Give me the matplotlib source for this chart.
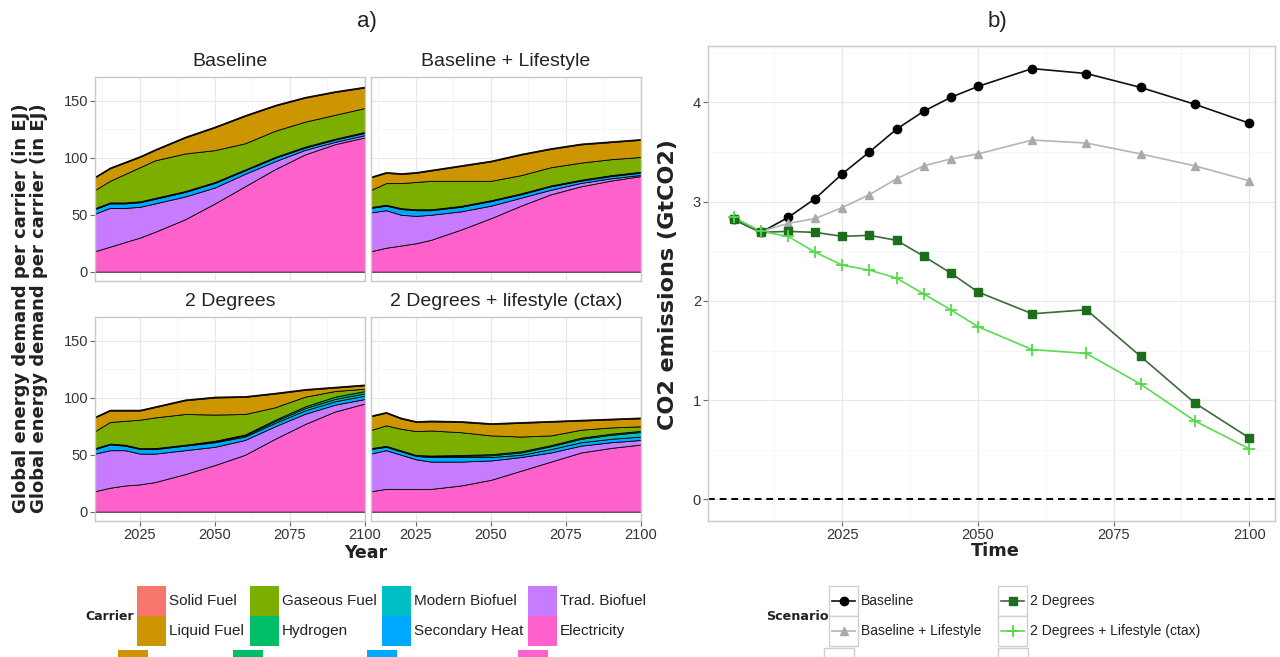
import numpy as np
import matplotlib.pyplot as plt
from matplotlib.patches import Rectangle
from matplotlib.lines import Line2D
from matplotlib.ticker import MultipleLocator

plt.rcParams['font.family'] = ['Liberation Sans', 'DejaVu Sans']

W, H = 1280, 657

# ---------------- data : energy demand per carrier (EJ) ----------------
years = [2010, 2015, 2020, 2025, 2030, 2040, 2050, 2060, 2070, 2080, 2090, 2100]

carriers = ['Solid Fuel', 'Liquid Fuel', 'Gaseous Fuel', 'Hydrogen',
            'Modern Biofuel', 'Secondary Heat', 'Trad. Biofuel', 'Electricity']
carrier_colors = ['#F8766D', '#CD9600', '#7CAE00', '#00BE67',
                  '#00BFC4', '#00A9FF', '#C77CFF', '#FF61CC']

facet_names = ['Baseline', 'Baseline + Lifestyle', '2 Degrees', '2 Degrees + lifestyle (ctax)']

baseline = {
    'Electricity':    [18, 22, 26, 30, 35, 46, 60, 75, 90, 103, 112, 118],
    'Trad. Biofuel':  [33, 34, 30, 27, 25, 20, 14, 11, 7, 4, 2, 2],
    'Secondary Heat': [4, 4, 4, 4, 4, 4, 4, 3, 3, 2, 2, 2],
    'Modern Biofuel': [0.5, 0.5, 0.5, 0.5, 0.5, 0.5, 0.5, 0.5, 0.5, 0.5, 0.5, 0.5],
    'Hydrogen':       [0.3, 0.3, 0.3, 0.3, 0.3, 0.3, 0.3, 0.3, 0.3, 0.3, 0.3, 0.3],
    'Gaseous Fuel':   [16, 19, 25, 30, 33, 33, 28, 23, 23, 22, 21, 21],
    'Liquid Fuel':    [11, 11, 10, 9, 9, 14, 20, 24, 22, 21, 20, 18],
    'Solid Fuel':     [0.8, 0.8, 0.8, 0.8, 0.8, 0.8, 0.8, 0.8, 0.8, 0.8, 0.8, 0.8],
}
baseline_life = {
    'Electricity':    [18, 21, 23, 25, 28, 37, 47, 58, 68, 75, 80, 84],
    'Trad. Biofuel':  [34, 33, 27, 24, 22, 16, 11, 7, 4, 3, 2, 1],
    'Secondary Heat': [4, 4, 5, 5, 4, 4, 4, 3, 3, 2, 2, 2],
    'Modern Biofuel': [0.5, 0.5, 0.5, 0.5, 0.5, 0.5, 0.5, 0.5, 0.5, 0.5, 0.5, 0.5],
    'Hydrogen':       [0.3, 0.3, 0.3, 0.3, 0.3, 0.3, 0.3, 0.3, 0.3, 0.3, 0.3, 0.3],
    'Gaseous Fuel':   [15, 19, 22, 24, 25, 22, 17, 16, 16, 15, 14, 13],
    'Liquid Fuel':    [11, 9, 8, 8, 9, 13, 17, 18, 16, 16, 15, 15],
    'Solid Fuel':     [0.8, 0.8, 0.8, 0.8, 0.8, 0.8, 0.8, 0.8, 0.8, 0.8, 0.8, 0.8],
}
two_deg = {
    'Electricity':    [18, 21, 23, 24, 26, 33, 41, 50, 64, 77, 88, 95],
    'Trad. Biofuel':  [33, 33, 31, 27, 25, 21, 16, 13, 11, 9, 6, 4],
    'Secondary Heat': [4, 5, 4, 4, 4, 4, 4, 3, 3, 3, 3, 3],
    'Modern Biofuel': [0.5, 0.5, 0.5, 0.5, 0.5, 0.5, 0.8, 1, 1.5, 2, 2, 2],
    'Hydrogen':       [0.3, 0.3, 0.3, 0.3, 0.3, 0.3, 0.5, 0.8, 1.2, 1.5, 2, 2],
    'Gaseous Fuel':   [15, 19, 21, 25, 27, 27, 23, 18, 11, 8.5, 5, 2],
    'Liquid Fuel':    [12, 10, 9, 8, 9, 12, 15, 15, 12, 6, 3, 3],
    'Solid Fuel':     [0.8, 0.8, 0.8, 0.8, 0.8, 0.8, 0.8, 0.8, 0.8, 0.8, 0.8, 0.8],
}
two_deg_life = {
    'Electricity':    [18, 20, 20, 20, 20, 23, 28, 36, 44, 52, 56, 59],
    'Trad. Biofuel':  [33, 34, 30, 26, 24, 21, 17, 12, 8, 6, 5, 4],
    'Secondary Heat': [4, 3, 3, 3, 4, 4, 3, 2, 3, 3, 3, 3],
    'Modern Biofuel': [0.5, 0.5, 0.5, 0.5, 0.8, 1, 1.5, 2, 2.5, 3, 3.5, 4],
    'Hydrogen':       [0.3, 0.3, 0.3, 0.3, 0.5, 0.8, 1, 1, 1, 1, 1, 1],
    'Gaseous Fuel':   [16, 18, 19, 21, 22, 20, 16.5, 13, 8.5, 7, 5.5, 4],
    'Liquid Fuel':    [12, 11, 9, 8, 8, 9, 10, 12, 12, 8, 7, 7],
    'Solid Fuel':     [0.8, 0.8, 0.8, 0.8, 0.8, 0.8, 0.8, 0.8, 0.8, 0.8, 0.8, 0.8],
}
facet_data = [baseline, baseline_life, two_deg, two_deg_life]

# ---------------- data : CO2 emissions (GtCO2) ----------------
em_years = [2005, 2010, 2015, 2020, 2025, 2030, 2035, 2040, 2045, 2050, 2060, 2070, 2080, 2090, 2100]
em_baseline = [2.82, 2.69, 2.84, 3.03, 3.28, 3.50, 3.73, 3.91, 4.05, 4.16, 4.34, 4.29, 4.15, 3.98, 3.79]
em_baseline_life = [2.84, 2.70, 2.78, 2.83, 2.94, 3.07, 3.23, 3.36, 3.43, 3.48, 3.62, 3.59, 3.48, 3.36, 3.21]
em_two_deg = [2.82, 2.69, 2.70, 2.69, 2.65, 2.66, 2.61, 2.45, 2.28, 2.09, 1.87, 1.91, 1.44, 0.97, 0.62]
em_two_deg_life = [2.84, 2.70, 2.65, 2.49, 2.36, 2.31, 2.23, 2.07, 1.91, 1.74, 1.51, 1.47, 1.16, 0.79, 0.51]

scenarios = ['Baseline', 'Baseline + Lifestyle', '2 Degrees', '2 Degrees + Lifestyle (ctax)']
scen_series = [em_baseline, em_baseline_life, em_two_deg, em_two_deg_life]
scen_colors = ['#000000', '#AAAAAA', '#1B6E1B', '#55D94A']
scen_lines = ['#111111', '#B5B5B5', '#3A6B3A', '#5BDB50']
scen_markers = ['o', '^', 's', '+']

# ---------------- figure ----------------
fig = plt.figure(figsize=(W / 100, H / 100), dpi=100)

ov = fig.add_axes([0, 0, 1, 1])
ov.set_xlim(0, W)
ov.set_ylim(H, 0)
ov.axis('off')


def px_axes(l, t, r, b):
    return fig.add_axes([l / W, 1 - b / H, (r - l) / W, (b - t) / H])


def style(ax):
    for s in ax.spines.values():
        s.set_color('#C8C8C8')
        s.set_linewidth(1.0)
    ax.grid(which='major', color='#E8E8E8', lw=0.9)
    ax.grid(which='minor', color='#F5F5F5', lw=0.6)
    ax.set_axisbelow(True)
    ax.tick_params(which='major', colors='#666666', labelcolor='#333333',
                   length=3.5, width=0.8, labelsize=10.5, pad=1.5)
    ax.tick_params(which='minor', length=0)


boxes = [(95, 77, 365, 281), (371, 77, 641, 281), (95, 317, 365, 521), (371, 317, 641, 521)]
for i, (box, name, data) in enumerate(zip(boxes, facet_names, facet_data)):
    ax = px_axes(*box)
    layers = [data[c] for c in carriers[::-1]]
    ax.stackplot(years, *layers, colors=carrier_colors[::-1],
                 edgecolor='black', linewidth=0.6)
    ax.set_xlim(2010, 2100)
    ax.set_ylim(-8.2, 171)
    ax.set_xticks([2025, 2050, 2075, 2100])
    ax.set_yticks([0, 50, 100, 150])
    ax.xaxis.set_minor_locator(MultipleLocator(12.5))
    ax.yaxis.set_minor_locator(MultipleLocator(25))
    style(ax)
    if i < 2:
        ax.tick_params(bottom=False, labelbottom=False)
    if i % 2 == 1:
        ax.tick_params(left=False, labelleft=False)
    cx = (box[0] + box[2]) / 2
    ov.text(cx, box[1] - 15, name, ha='center', va='center', fontsize=14, color='#222222')

# right panel
axr = px_axes(708, 46, 1275, 521)
axr.axhline(0, color='black', ls=(0, (3.5, 2.5)), lw=1.4, zorder=2)
for name, ys, col, lcol, mk in zip(scenarios, scen_series, scen_colors, scen_lines, scen_markers):
    axr.plot(em_years, ys, color=lcol, lw=1.2, zorder=3)
    if mk == '+':
        axr.plot(em_years, ys, ls='none', marker='+', ms=8, mew=1.3, color=col, zorder=4)
    else:
        axr.plot(em_years, ys, ls='none', marker=mk, ms=6, color=col, zorder=4)
axr.set_xlim(2000.25, 2104.75)
axr.set_ylim(-0.2175, 4.5675)
axr.set_xticks([2025, 2050, 2075, 2100])
axr.set_yticks([0, 1, 2, 3, 4])
axr.set_xticks([2012.5, 2037.5, 2062.5, 2087.5], minor=True)
axr.yaxis.set_minor_locator(MultipleLocator(0.5))
style(axr)

# titles and axis labels
ov.text(367, 22, 'a)', ha='center', va='center', fontsize=16, color='#222222')
ov.text(997, 22, 'b)', ha='center', va='center', fontsize=16, color='#222222')
ylab = 'Global energy demand per carrier (in EJ)'
for xx in (21, 39):
    ov.text(xx, 308, ylab, rotation=90, ha='center', va='center', fontsize=13,
            fontweight='bold', family='DejaVu Sans', color='#222222')
ov.text(366, 553, 'Year', ha='center', va='center', fontsize=12.5,
        fontweight='bold', family='DejaVu Sans', color='#222222')
ov.text(995, 551, 'Time', ha='center', va='center', fontsize=12.8,
        fontweight='bold', family='DejaVu Sans', color='#222222')
ov.text(668, 285, 'CO2 emissions (GtCO2)', rotation=90, ha='center', va='center',
        fontsize=16, fontweight='bold', family='DejaVu Sans', color='#222222')

# carrier legend
ov.text(110, 616, 'Carrier', ha='center', va='center', fontsize=9,
        fontweight='bold', family='DejaVu Sans', color='#222222')
key_x = [137, 250, 382, 528]
key_y = [586, 616]
for k, (lab, col) in enumerate(zip(carriers, carrier_colors)):
    x0 = key_x[k // 2]
    y0 = key_y[k % 2]
    ov.add_patch(Rectangle((x0, y0), 29, 30, facecolor=col, edgecolor='none'))
    ov.text(x0 + 32, y0 + 15, lab, ha='left', va='center', fontsize=11, color='#222222')
for x0, col in zip([118, 233, 367, 518], ['#CD9600', '#00BE67', '#00A9FF', '#FF61CC']):
    ov.add_patch(Rectangle((x0, 650), 30, 8, facecolor=col, edgecolor='none'))

# scenario legend
ov.text(797, 616, 'Scenario', ha='center', va='center', fontsize=9.2,
        fontweight='bold', family='DejaVu Sans', color='#222222')
skey_x = [829, 998]
for k, (lab, col, lcol, mk) in enumerate(zip(scenarios, scen_colors, scen_lines, scen_markers)):
    x0 = skey_x[k // 2]
    y0 = key_y[k % 2]
    ov.add_patch(Rectangle((x0, y0), 29, 30, facecolor='white', edgecolor='#D0D0D0', lw=1))
    ov.add_line(Line2D([x0 + 3, x0 + 26], [y0 + 15, y0 + 15], color=lcol, lw=1.2))
    if mk == '+':
        ov.plot(x0 + 14.5, y0 + 15, marker='+', ms=8, mew=1.3, color=col)
    else:
        ov.plot(x0 + 14.5, y0 + 15, marker=mk, ms=6, color=col)
    ov.text(x0 + 32, y0 + 15, lab, ha='left', va='center', fontsize=10, color='#222222')
for x0 in (824, 998):
    ov.add_patch(Rectangle((x0, 648), 30, 12, facecolor='white', edgecolor='#D0D0D0', lw=1))

fig.savefig('out.png', dpi=100)
